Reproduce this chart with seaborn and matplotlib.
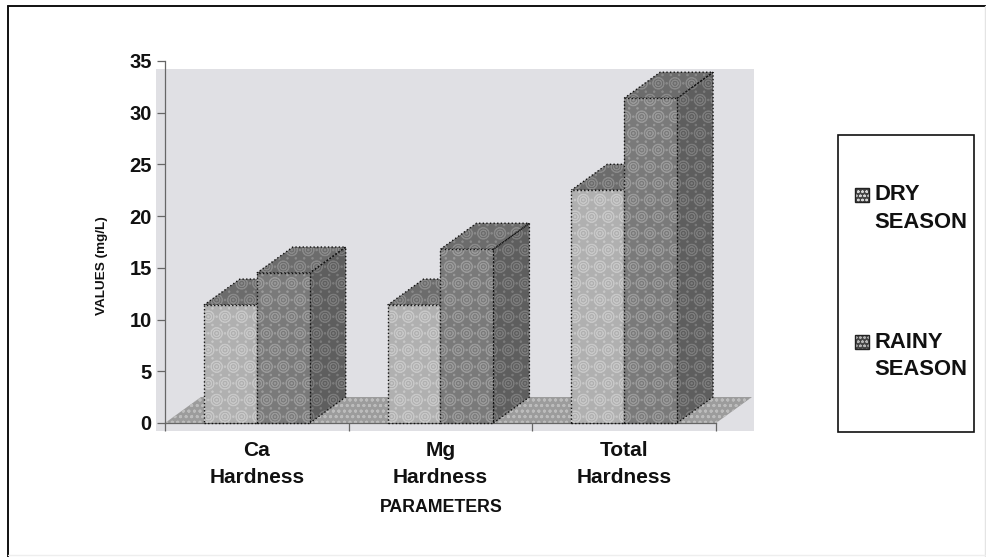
import numpy as np
import pandas as pd
import seaborn as sns
import matplotlib
matplotlib.use("Agg")
import matplotlib.pyplot as plt
from matplotlib.patches import Polygon, Rectangle
from matplotlib.lines import Line2D

categories = ["Ca\nHardness", "Mg\nHardness", "Total\nHardness"]
dry_season = [11.4, 11.4, 22.5]
rainy_season = [14.5, 16.8, 31.4]
season_labels = ["DRY\nSEASON", "RAINY\nSEASON"]
y_ticks = [0, 5, 10, 15, 20, 25, 30, 35]

W, H = 986, 557
sns.set_theme(style="white")
plt.rcParams["font.family"] = ["Liberation Sans", "DejaVu Sans"]
plt.rcParams["hatch.linewidth"] = 0.6

fig = plt.figure(figsize=(W / 100, H / 100), dpi=100, facecolor="white")


def fig_box(x0, y0, x1, y1):
    return [x0 / W, 1 - y1 / H, (x1 - x0) / W, (y1 - y0) / H]


# grey plot surround and outer frame
b = fig_box(156, 69, 754, 431)
fig.patches.append(Rectangle((b[0], b[1]), b[2], b[3], transform=fig.transFigure,
                             facecolor="#e0e0e4", edgecolor="none", zorder=-5))
fig.lines.append(Line2D([8 / W, 8 / W], [0, 1 - 6 / H], transform=fig.transFigure, color="#111111", lw=1.4))
fig.lines.append(Line2D([8 / W, 1], [1 - 6 / H, 1 - 6 / H], transform=fig.transFigure, color="#111111", lw=1.4))
fig.lines.append(Line2D([985 / W, 985 / W], [0, 1 - 6 / H], transform=fig.transFigure, color="#e4e4e4", lw=1))
fig.lines.append(Line2D([8 / W, 985 / W], [2 / H, 2 / H], transform=fig.transFigure, color="#eeeeee", lw=1))

ax = fig.add_axes(fig_box(165, 61, 716, 423))
ax.patch.set_alpha(0)

df = pd.DataFrame({
    "Parameter": categories * 2,
    "Value": dry_season + rainy_season,
    "Season": [season_labels[0]] * 3 + [season_labels[1]] * 3,
})
sns.barplot(data=df, x="Parameter", y="Value", hue="Season", ax=ax, width=0.576,
            gap=0, dodge=True, palette=["#b5b5b5", "#7e7e7e"], legend=True, zorder=3)

ax.set_xlim(-0.5, 2.5)
ax.set_ylim(0, 35)

# depth of the 3D look, in data units
DX = 36 / (716 - 165) * 3
DY = 26 / (423 - 61) * 35
HATCH = "Oo.."
DOTTED = (0, (1, 1.6))


def textured(points, fc, hc, z):
    """A textured, dotted-outline polygon: the hatch takes the edge colour of the fill patch."""
    ax.add_patch(Polygon(points, closed=True, facecolor=fc, edgecolor=hc, lw=0, hatch=HATCH,
                         clip_on=False, zorder=z))
    ax.add_patch(Polygon(points, closed=True, facecolor="none", edgecolor="#111111", lw=1.0,
                         ls=DOTTED, clip_on=False, zorder=z + 0.1))


# floor
ax.add_patch(Polygon([(-0.5, 0), (-0.5 + DX, DY), (2.5 + DX, DY), (2.5, 0)], closed=True, clip_on=False,
                     facecolor="#9c9c9c", edgecolor="#bcbcbc", lw=0, hatch="ooo...", zorder=1))

face_colors = [("#b0b0b0", "#c8c8c8"), ("#7a7a7a", "#9a9a9a")]
for i, cont in enumerate(ax.containers):
    fc, hc = face_colors[i]
    z = 4 + 2 * i
    for bar in cont:
        x0, w, h = bar.get_x(), bar.get_width(), bar.get_height()
        bar.set_facecolor(fc)
        bar.set_edgecolor(hc)
        bar.set_linewidth(0)
        bar.set_hatch(HATCH)
        bar.set_clip_on(False)
        bar.set_zorder(z)
        ax.add_patch(Rectangle((x0, 0), w, h, facecolor="none", edgecolor="#111111", lw=1.0, ls=DOTTED,
                               clip_on=False, zorder=z + 0.1))
        textured([(x0, h), (x0 + DX, h + DY), (x0 + w + DX, h + DY), (x0 + w, h)],
                 "#6c6c6c", "#8a8a8a", z - 1)
        textured([(x0 + w, 0), (x0 + w + DX, DY), (x0 + w + DX, h + DY), (x0 + w, h)],
                 "#5e5e5e", "#7c7c7c", z - 1)

# axes, ticks, text
for s in ("top", "right"):
    ax.spines[s].set_visible(False)
for s in ("left", "bottom"):
    ax.spines[s].set_color("#666666")
    ax.spines[s].set_linewidth(0.9)
    ax.spines[s].set_zorder(2)

ax.set_yticks(y_ticks)
ax.tick_params(axis="y", left=True, length=5.5, width=0.9, color="#666666", pad=4, labelsize=14.5,
               labelcolor="#111111")
for t in ax.get_yticklabels():
    t.set_fontweight("bold")
ax.set_xticks([0, 1, 2])
ax.set_xticklabels(categories, fontsize=15, fontweight="bold", color="#111111", linespacing=1.53)
ax.tick_params(axis="x", bottom=False, pad=7.3)
ax.set_xticks([-0.5, 0.5, 1.5, 2.5], minor=True)
ax.tick_params(axis="x", which="minor", bottom=True, length=6, width=0.9, color="#666666")

ax.set_xlabel("")
ax.set_ylabel("")
fig.text(441 / W, 1 - 508 / H, "PARAMETERS", ha="center", va="center", fontsize=12.8, fontweight="bold",
         color="#111111")
fig.text(102 / W, 1 - 266 / H, "VALUES (mg/L)", ha="center", va="center", rotation=90,
         fontsize=9.7, fontweight="bold", color="#111111")

# legend box and entries
handles, labels = ax.get_legend_handles_labels()
ax.get_legend().remove()
lb = fig_box(838, 135, 974, 432)
fig.patches.append(Rectangle((lb[0], lb[1]), lb[2], lb[3], transform=fig.transFigure,
                             facecolor="white", edgecolor="#111111", lw=1.2, zorder=1))
for lab, yy, hc in zip(labels, (195, 342), ("#d4d4d4", "#b4b4b4")):
    ly = fig_box(855, yy - 7, 869, yy + 7)
    fig.patches.append(Rectangle((ly[0], ly[1]), ly[2], ly[3], transform=fig.transFigure, facecolor="#444444",
                                 edgecolor=hc, lw=0, hatch="oooo", zorder=3))
    ly2 = Rectangle((ly[0], ly[1]), ly[2], ly[3], transform=fig.transFigure, facecolor="none",
                    edgecolor="#222222", lw=1, zorder=3.1)
    fig.patches.append(ly2)
    fig.text(874 / W, 1 - (yy - 10.5) / H, lab, ha="left", va="top", fontsize=15.8, fontweight="bold",
             color="#111111", linespacing=1.41, zorder=3)

fig.savefig("out.png", dpi=100, facecolor="white")
